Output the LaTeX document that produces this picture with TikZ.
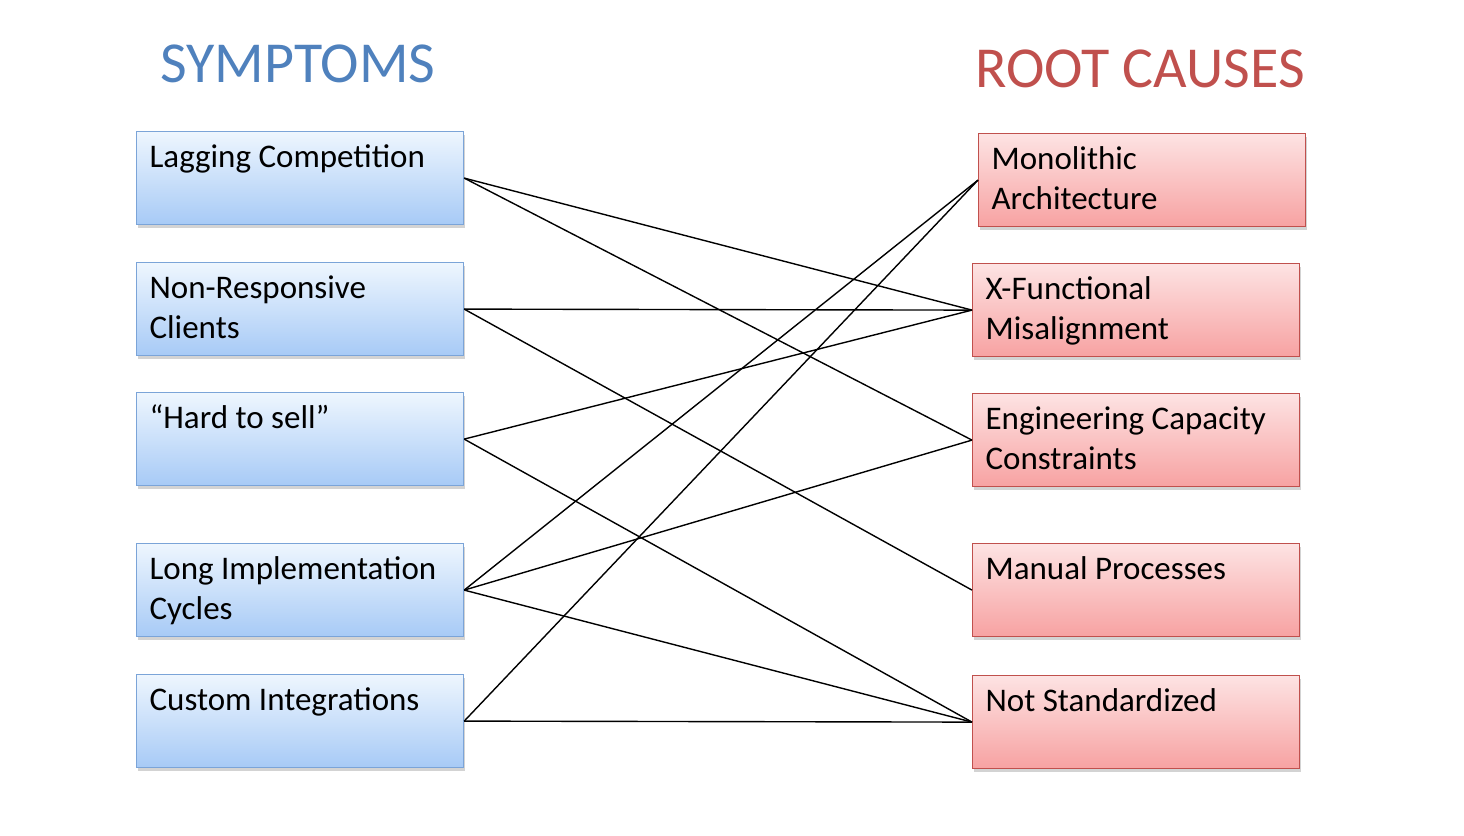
\documentclass[tikz,border=0pt]{standalone}
\usepackage{fontspec}
\setmainfont{Carlito}
\usetikzlibrary{shadows}
\definecolor{symblue}{HTML}{4F81BD}
\definecolor{rootred}{HTML}{C0504D}
\definecolor{bluetop}{HTML}{EEF6FE}
\definecolor{bluebot}{HTML}{A7CAF6}
\definecolor{blueedge}{HTML}{7BA4D8}
\definecolor{redtop}{HTML}{FDE3E3}
\definecolor{redbot}{HTML}{F7A2A2}
\definecolor{rededge}{HTML}{C0504D}
\tikzset{
  boxbase/.style={rectangle, anchor=north west, inner xsep=6.5pt, inner ysep=4pt,
    line width=0.6pt, drop shadow={opacity=0.35, shadow xshift=0.8pt, shadow yshift=-1.6pt},
    font=\fontsize{16.5}{20}\selectfont},
  symbox/.style={boxbase, draw=blueedge, top color=bluetop, bottom color=bluebot},
  causebox/.style={boxbase, draw=rededge, top color=redtop, bottom color=redbot},
  link/.style={draw=black, line width=0.7pt},
  titletext/.style={anchor=base, font=\fontsize{29}{34}\selectfont}
}
\newcommand{\boxtext}[1]{\parbox[t][38.5pt][t]{150.5pt}{\raggedright\strut #1}}
\begin{document}
\begin{tikzpicture}[x=0.5pt, y=-0.5pt]
\useasboundingbox (0,0) rectangle (1464,836);

\node[titletext, text=symblue] (ts) at (298,82) {SYMPTOMS};
\node[titletext, text=rootred] (tr) at (1140,87) {ROOT CAUSES};

\node[symbox] (s1) at (136,131) {\boxtext{Lagging Competition}};
\node[symbox] (s2) at (136,262) {\boxtext{Non-Responsive\\Clients}};
\node[symbox] (s3) at (136,392) {\boxtext{“Hard to sell”}};
\node[symbox] (s4) at (136,543) {\boxtext{Long Implementation\\Cycles}};
\node[symbox] (s5) at (136,674) {\boxtext{Custom Integrations}};

\node[causebox] (r1) at (978,133) {\boxtext{Monolithic\\Architecture}};
\node[causebox] (r2) at (972,263) {\boxtext{X-Functional\\Misalignment}};
\node[causebox] (r3) at (972,393) {\boxtext{Engineering Capacity\\Constraints}};
\node[causebox] (r4) at (972,543) {\boxtext{Manual Processes}};
\node[causebox] (r5) at (972,675) {\boxtext{Not Standardized}};

\draw[link] (s1.east) -- (r2.west);
\draw[link] (s1.east) -- (r3.west);
\draw[link] (s2.east) -- (r2.west);
\draw[link] (s2.east) -- (r4.west);
\draw[link] (s3.east) -- (r2.west);
\draw[link] (s3.east) -- (r5.west);
\draw[link] (s4.east) -- (r1.west);
\draw[link] (s4.east) -- (r3.west);
\draw[link] (s4.east) -- (r5.west);
\draw[link] (s5.east) -- (r1.west);
\draw[link] (s5.east) -- (r5.west);
\end{tikzpicture}
\end{document}
